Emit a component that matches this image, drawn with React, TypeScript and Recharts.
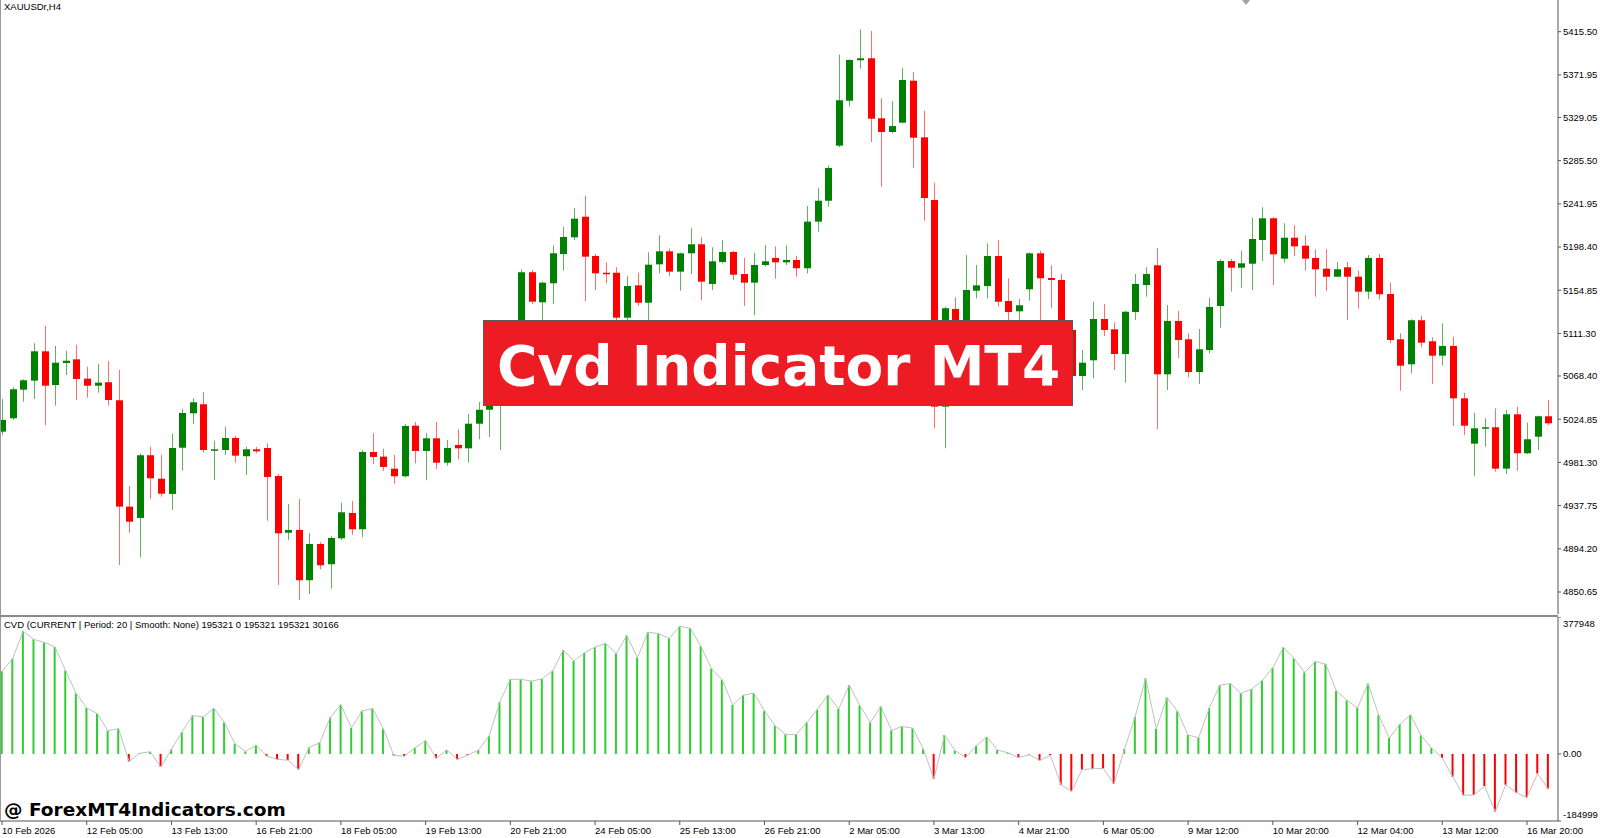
import { Bar, Cell, ComposedChart, Line, XAxis, YAxis } from 'recharts';

const FONT = "'Liberation Sans', Arial, sans-serif";
const HEAVY_FONT = "'DejaVu Sans', Verdana, sans-serif";

// XAUUSDr H4 candles (oldest first)
const opens = [
  5012.3, 5025.8, 5054.6, 5063.7, 5093.3, 5059.3, 5081.5, 5085.2, 5065.7, 5058.6,
  5062.1, 5043.9, 4936.7, 4925.3, 4988.5, 4964.9, 4949.5, 4996.1, 5030.8, 5039.9,
  4993.8, 4993.8, 5005.9, 4987.5, 4994.5, 4995.8, 4967.6, 4910.4, 4913.2, 4862.5,
  4899.0, 4878.6, 4904.8, 4930.3, 4913.9, 4991.8, 4987.1, 4975.0, 4967.3, 5018.3,
  4992.8, 5005.6, 4981.0, 4998.9, 4995.5, 5020.3, 5034.4, 5059.3, 5084.5, 5109.7,
  5173.0, 5142.7, 5161.9, 5191.4, 5208.2, 5229.0, 5189.4, 5172.5, 5172.5, 5127.2,
  5159.8, 5142.3, 5181.0, 5194.1, 5173.6, 5192.1, 5201.2, 5161.2, 5183.3, 5193.4,
  5171.2, 5162.5, 5180.3, 5187.4, 5183.0, 5185.4, 5177.0, 5224.0, 5245.1, 5300.6,
  5345.9, 5386.7, 5388.7, 5328.2, 5314.4, 5323.8, 5366.1, 5309.0, 5245.8, 5037.5,
  5136.0, 5109.7, 5154.4, 5159.1, 5189.4, 5144.0, 5133.6, 5155.8, 5192.1, 5167.2,
  5165.2, 5114.8, 5068.4, 5084.2, 5125.9, 5115.5, 5090.6, 5132.9, 5160.1, 5180.0,
  5070.1, 5123.9, 5105.4, 5072.4, 5094.6, 5139.0, 5184.3, 5177.6, 5181.6, 5205.5,
  5227.4, 5186.7, 5207.8, 5199.8, 5187.4, 5176.6, 5168.5, 5178.0, 5168.5, 5153.4,
  5187.4, 5151.1, 5105.4, 5080.2, 5124.6, 5103.4, 5088.9, 5098.7, 5045.9, 5000.2,
  5015.3, 5016.7, 4975.0, 5029.8, 4990.5, 5007.2, 5027.8,
];

const highs = [
  5045.2, 5057.0, 5065.1, 5101.4, 5118.8, 5098.7, 5093.9, 5100.0, 5077.8, 5080.5,
  5083.5, 5074.5, 4957.5, 4990.5, 4997.1, 4989.1, 5010.6, 5035.4, 5045.9, 5052.3,
  5003.2, 5017.3, 5007.9, 4997.1, 4996.8, 5000.6, 4969.6, 4939.4, 4944.4, 4910.1,
  4901.1, 4906.8, 4940.7, 4942.4, 4993.8, 5010.6, 4995.1, 4988.8, 5020.0, 5022.0,
  5010.6, 5022.0, 5003.9, 5014.7, 5030.1, 5042.2, 5066.4, 5092.6, 5117.8, 5176.0,
  5175.3, 5163.5, 5200.2, 5218.6, 5237.5, 5249.9, 5191.4, 5183.0, 5178.0, 5169.2,
  5172.6, 5193.1, 5210.3, 5196.7, 5192.7, 5217.3, 5208.2, 5198.2, 5205.5, 5194.7,
  5187.4, 5192.7, 5200.5, 5199.1, 5200.2, 5189.7, 5239.8, 5257.6, 5280.8, 5392.3,
  5387.7, 5417.9, 5416.2, 5348.4, 5345.6, 5378.9, 5374.9, 5335.9, 5263.3, 5138.3,
  5147.7, 5190.4, 5180.3, 5202.2, 5205.5, 5166.9, 5146.0, 5193.0, 5194.7, 5180.0,
  5171.2, 5119.8, 5094.6, 5143.3, 5141.0, 5122.5, 5133.9, 5171.2, 5178.0, 5197.1,
  5140.0, 5133.9, 5111.5, 5115.8, 5147.3, 5186.1, 5186.4, 5194.7, 5228.0, 5238.5,
  5228.5, 5222.4, 5220.3, 5210.3, 5196.1, 5196.1, 5183.3, 5183.3, 5174.6, 5190.4,
  5191.4, 5162.5, 5111.5, 5125.5, 5128.9, 5107.4, 5121.5, 5108.0, 5051.6, 5031.4,
  5025.8, 5035.8, 5034.1, 5037.5, 5021.3, 5028.5, 5044.2,
];

const lows = [
  5008.9, 5024.1, 5042.5, 5045.2, 5018.7, 5038.5, 5069.4, 5044.2, 5046.5, 5051.6,
  5038.5, 4877.9, 4910.4, 4885.6, 4944.4, 4946.7, 4933.3, 4972.9, 5020.0, 4991.1,
  4963.6, 4988.8, 4981.0, 4968.6, 4990.5, 4922.5, 4857.7, 4903.1, 4842.6, 4848.6,
  4873.5, 4854.0, 4903.1, 4908.4, 4905.8, 4979.7, 4972.6, 4959.8, 4966.3, 4980.4,
  4963.3, 4974.7, 4978.0, 4984.4, 4981.0, 5004.6, 5006.9, 4993.8, 5072.4, 5104.7,
  5141.0, 5120.8, 5141.0, 5174.6, 5205.5, 5144.0, 5155.1, 5161.9, 5120.8, 5121.8,
  5139.0, 5122.9, 5171.9, 5169.2, 5154.4, 5171.2, 5145.0, 5155.1, 5182.0, 5165.2,
  5139.0, 5129.6, 5178.6, 5166.5, 5180.3, 5168.5, 5171.9, 5213.9, 5239.1, 5299.0,
  5339.9, 5378.2, 5304.3, 5259.2, 5313.1, 5323.2, 5278.4, 5225.0, 5015.7, 4995.5,
  5099.6, 5102.7, 5146.7, 5146.7, 5138.3, 5119.8, 5120.8, 5144.3, 5122.9, 5136.7,
  5108.7, 5064.4, 5054.3, 5066.1, 5108.7, 5074.5, 5061.7, 5124.9, 5148.4, 5014.7,
  5054.3, 5086.3, 5067.1, 5060.3, 5091.3, 5117.1, 5153.4, 5157.4, 5155.1, 5184.3,
  5160.1, 5182.6, 5189.4, 5174.6, 5148.4, 5154.1, 5167.9, 5124.9, 5136.3, 5146.0,
  5145.7, 5101.4, 5053.6, 5071.1, 5097.3, 5060.3, 5078.8, 5018.0, 5008.9, 4967.6,
  4997.1, 4971.9, 4969.6, 4972.9, 4989.8, 4993.8, 5019.0,
];

const closes = [
  5024.1, 5055.0, 5064.1, 5093.3, 5058.6, 5081.8, 5083.8, 5065.4, 5058.6, 5061.7,
  5044.2, 4936.7, 4921.5, 4988.5, 4965.3, 4949.8, 4995.8, 5031.1, 5041.9, 4993.8,
  4994.5, 5005.9, 4988.1, 4994.5, 4992.5, 4966.6, 4909.8, 4913.2, 4862.5, 4899.0,
  4877.6, 4905.1, 4931.0, 4913.9, 4991.8, 4986.8, 4976.7, 4967.3, 5018.0, 4992.8,
  5005.6, 4981.0, 4995.8, 4995.5, 5020.3, 5034.4, 5059.3, 5084.5, 5109.7, 5173.0,
  5143.3, 5162.5, 5192.1, 5208.5, 5227.0, 5188.7, 5171.9, 5171.9, 5127.2, 5159.1,
  5142.3, 5180.6, 5194.1, 5173.6, 5192.1, 5201.2, 5163.5, 5184.0, 5193.4, 5170.5,
  5162.5, 5180.3, 5184.0, 5183.0, 5185.4, 5177.0, 5224.0, 5245.1, 5278.1, 5346.4,
  5387.0, 5388.7, 5327.8, 5314.4, 5320.4, 5366.8, 5308.6, 5247.8, 5037.5, 5136.7,
  5109.7, 5155.1, 5159.8, 5189.4, 5143.3, 5132.9, 5139.7, 5192.1, 5166.9, 5165.2,
  5114.8, 5068.4, 5081.8, 5125.9, 5114.8, 5090.6, 5133.2, 5161.2, 5171.2, 5070.1,
  5123.9, 5104.7, 5072.4, 5095.3, 5138.0, 5184.3, 5177.6, 5182.0, 5206.5, 5227.4,
  5191.1, 5207.8, 5199.1, 5186.7, 5176.0, 5168.5, 5176.0, 5168.5, 5153.4, 5187.4,
  5150.8, 5104.7, 5078.8, 5124.6, 5102.0, 5088.9, 5098.7, 5045.9, 5018.3, 5015.7,
  5016.7, 4975.0, 5029.8, 4990.5, 5004.6, 5027.8, 5020.7,
];

// CVD histogram, one value per candle
const cvdValues = [
  228000, 263000, 339000, 316000, 308000, 295000, 230000, 167000, 127000, 111000,
  64000, 70000, -21000, 2000, 6000, -36000, 13000, 61000, 106000, 102000,
  126000, 87000, 28000, 7000, 24000, -6000, -15000, -17000, -43000, 18000,
  31000, 101000, 136000, 72000, 119000, 125000, 70000, -4000, -6000, 17000,
  37000, -12000, 11000, -15000, -3000, 11000, 50000, 143000, 206000, 206000,
  201000, 207000, 229000, 287000, 257000, 279000, 295000, 305000, 277000, 327000,
  266000, 336000, 332000, 319000, 352000, 347000, 297000, 235000, 205000, 135000,
  162000, 168000, 119000, 78000, 54000, 54000, 87000, 123000, 163000, 124000,
  190000, 134000, 87000, 131000, 65000, 76000, 71000, 14000, -69000, 52000,
  9000, -10000, 23000, 47000, 11000, 3000, -10000, -2000, -18000, -4000,
  -85000, -103000, -43000, -41000, -40000, -83000, 14000, 103000, 209000, 69000,
  156000, 118000, 52000, 45000, 127000, 190000, 194000, 167000, 179000, 203000,
  238000, 294000, 264000, 225000, 255000, 248000, 174000, 148000, 127000, 195000,
  107000, 44000, 82000, 108000, 51000, 16000, -11000, -63000, -114000, -113000,
  -89000, -159000, -85000, -107000, -120000, -54000, -96000,
];

const priceTicks = [
  5415.5, 5371.95, 5329.05, 5285.5, 5241.95, 5198.4, 5154.85,
  5111.3, 5068.4, 5024.85, 4981.3, 4937.75, 4894.2, 4850.65,
];
const CVD_MAX = 377948;
const CVD_MIN = -184999;
const cvdTicks = [CVD_MAX, 0, CVD_MIN];

const timeTickIndex = [0, 8, 16, 24, 32, 40, 48, 56, 64, 72, 80, 88, 96, 104, 112, 120, 128, 136, 144];
const timeLabels = [
  '10 Feb 2026', '12 Feb 05:00', '13 Feb 13:00', '16 Feb 21:00', '18 Feb 05:00',
  '19 Feb 13:00', '20 Feb 21:00', '24 Feb 05:00', '25 Feb 13:00', '26 Feb 21:00',
  '2 Mar 05:00', '3 Mar 13:00', '4 Mar 21:00', '6 Mar 05:00', '9 Mar 12:00',
  '10 Mar 20:00', '12 Mar 04:00', '13 Mar 12:00', '16 Mar 20:00',
];

// visible window of the terminal
const X_DOMAIN: [number, number] = [-0.19, 146.93];
const PRICE_DOMAIN: [number, number] = [4828.46, 5447.46];

const rows = closes.map((close, i) => ({
  i,
  open: opens[i],
  high: highs[i],
  low: lows[i],
  close,
  cvd: cvdValues[i],
}));

function Candle(props: any) {
  const { x, y, width, height, payload } = props;
  if (!payload || height == null || isNaN(y)) return null;
  const { open, close, high, low } = payload;
  const up = close >= open;
  const cx = Math.round(x + width / 2) + 0.5;
  const top = Math.min(y, y + height);
  const h = Math.abs(height);
  const span = high - low || 1;
  const toY = (v: number) => top + ((high - v) / span) * h;
  const bodyTop = toY(Math.max(open, close));
  const bodyH = Math.max(toY(Math.min(open, close)) - bodyTop, 1.5);
  return (
    <g>
      <line x1={cx} x2={cx} y1={top} y2={top + h} stroke={up ? '#5fb35f' : '#ff6e6e'} strokeWidth={1} />
      <rect x={cx - 3.5} y={bodyTop} width={7} height={bodyH} fill={up ? '#008000' : '#ff0000'} />
    </g>
  );
}

function TimeTick({ x, y, payload }: any) {
  const k = timeTickIndex.indexOf(payload.value);
  return (
    <text x={x} y={y} dy={9} fontSize={9.5} fontFamily={FONT} fill="#000" textAnchor="start">
      {timeLabels[k]}
    </text>
  );
}

function CvdTick({ x, y, payload }: any) {
  const v = payload.value;
  const shift = v === CVD_MAX ? 7 : v === CVD_MIN ? -6 : 0;
  return (
    <text x={x} y={y + shift} dy="0.35em" fontSize={9.5} fontFamily={FONT} fill="#000" textAnchor="start">
      {v === 0 ? '0.00' : String(v)}
    </text>
  );
}

export default function App() {
  return (
    <div
      style={{
        position: 'fixed',
        left: 0,
        top: 0,
        width: 1600,
        height: 838,
        background: '#fff',
        overflow: 'hidden',
        fontFamily: FONT,
      }}
    >
      <div style={{ position: 'absolute', left: 0, top: 0 }}>
        <ComposedChart width={1600} height={614} data={rows} margin={{ top: 0, right: 0, bottom: 0, left: 0 }}>
          <XAxis dataKey="i" type="number" domain={X_DOMAIN} allowDataOverflow hide />
          <YAxis
            orientation="right"
            type="number"
            width={42}
            domain={PRICE_DOMAIN}
            allowDataOverflow
            ticks={priceTicks}
            interval={0}
            axisLine={{ stroke: '#555' }}
            tickLine={{ stroke: '#555' }}
            tickSize={3}
            tickMargin={2}
            tick={{ fontSize: 9.5, fill: '#000', fontFamily: FONT }}
            tickFormatter={(v: number) => v.toFixed(2)}
          />
          <Bar
            dataKey={(d: any) => [d.low, d.high]}
            barSize={7}
            shape={(p: any) => <Candle {...p} />}
            isAnimationActive={false}
          />
        </ComposedChart>
      </div>

      <div style={{ position: 'absolute', left: 0, top: 617 }}>
        <ComposedChart width={1600} height={221} data={rows} margin={{ top: 0, right: 0, bottom: 0, left: 0 }}>
          <XAxis
            dataKey="i"
            type="number"
            domain={X_DOMAIN}
            allowDataOverflow
            ticks={timeTickIndex}
            interval={0}
            height={17}
            axisLine={{ stroke: '#555' }}
            tickLine={{ stroke: '#555' }}
            tickSize={4}
            tickMargin={0}
            tick={<TimeTick />}
          />
          <YAxis
            orientation="right"
            type="number"
            width={42}
            domain={[CVD_MIN, CVD_MAX]}
            allowDataOverflow
            ticks={cvdTicks}
            interval={0}
            axisLine={{ stroke: '#555' }}
            tickLine={{ stroke: '#555' }}
            tickSize={3}
            tickMargin={2}
            tick={<CvdTick />}
          />
          <Bar dataKey="cvd" barSize={2} isAnimationActive={false}>
            {rows.map((r) => (
              <Cell key={r.i} fill={r.cvd >= 0 ? '#32cd32' : '#ff0000'} />
            ))}
          </Bar>
          <Line
            type="linear"
            dataKey="cvd"
            stroke="#c0c0c0"
            strokeWidth={1}
            dot={false}
            activeDot={false}
            isAnimationActive={false}
          />
        </ComposedChart>
      </div>

      {/* frame bits of the terminal window */}
      <div style={{ position: 'absolute', left: 0, top: 0, width: 1, height: 821, background: '#9a9a9a' }} />
      <div style={{ position: 'absolute', left: 0, top: 615, width: 1558, height: 2, background: '#8a8a8a' }} />
      <div
        style={{
          position: 'absolute',
          left: 1242,
          top: 0,
          width: 0,
          height: 0,
          borderLeft: '4px solid transparent',
          borderRight: '4px solid transparent',
          borderTop: '5px solid #a0a0a0',
        }}
      />

      <div style={{ position: 'absolute', left: 4, top: 1, fontSize: 9.5, lineHeight: '12px', color: '#000' }}>
        XAUUSDr,H4
      </div>
      <div style={{ position: 'absolute', left: 4, top: 619, fontSize: 9.5, lineHeight: '12px', color: '#000' }}>
        CVD (CURRENT | Period: 20 | Smooth: None) 195321 0 195321 195321 30166
      </div>

      <div
        style={{
          position: 'absolute',
          left: 483,
          top: 320,
          width: 575,
          height: 78,
          paddingTop: 6,
          paddingLeft: 13,
          background: '#ed1c24',
          border: '1px solid #5a5a5a',
          display: 'flex',
          alignItems: 'center',
          boxSizing: 'content-box',
          color: '#fff',
          fontFamily: HEAVY_FONT,
          fontWeight: 'bold',
          fontSize: 55,
          whiteSpace: 'nowrap',
        }}
      >
        Cvd Indicator MT4
      </div>

      <div
        style={{
          position: 'absolute',
          left: 4,
          top: 799,
          fontFamily: HEAVY_FONT,
          fontWeight: 'bold',
          fontSize: 18.5,
          lineHeight: '21px',
          color: '#000',
          whiteSpace: 'nowrap',
        }}
      >
        @ ForexMT4Indicators.com
      </div>
    </div>
  );
}
